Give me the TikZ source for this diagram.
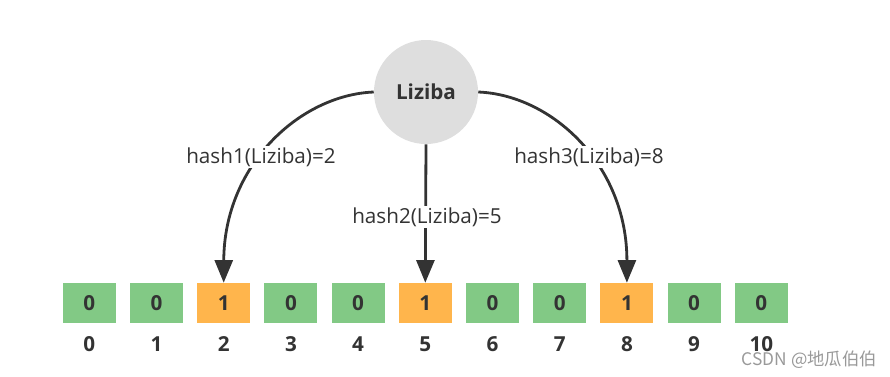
\documentclass[tikz,border=0pt]{standalone}
\usepackage{fontspec}
\setmainfont{Open Sans}
\newfontfamily\cjkfont{Noto Sans CJK SC}
\usetikzlibrary{arrows.meta,positioning}

\begin{document}
\begin{tikzpicture}[x=0.75pt, y=-0.75pt,
  bit/.style={minimum width=39.75pt, minimum height=30pt, inner sep=0pt, font=\fontsize{15.5}{18}\selectfont\bfseries, text=txtD},
  idx/.style={inner sep=0pt, font=\fontsize{15.5}{18}\selectfont\bfseries, text=txtD},
  lbl/.style={fill=white, inner sep=1pt, font=\fontsize{15.5}{18}\selectfont, text=txtD},
  hop/.style={-{Triangle[length=17pt,width=13.5pt]}, line width=2.1pt, draw=txtD},
]
\definecolor{txtD}{HTML}{333333}
\definecolor{bitG}{HTML}{82C985}
\definecolor{bitO}{HTML}{FFB54C}
\definecolor{keyG}{HTML}{DEDEDE}
\useasboundingbox (0,0) rectangle (890,376);
% key
\node[circle, fill=keyG, minimum size=78pt, inner sep=0pt, font=\fontsize{15.5}{18}\selectfont\bfseries, text=txtD] (key) at (426,92) {Liziba};
% ---- bit array ----
\foreach \k/\v/\c in {0/0/bitG,1/0/bitG,2/1/bitO,3/0/bitG,4/0/bitG,5/1/bitO,6/0/bitG,7/0/bitG,8/1/bitO,9/0/bitG,10/0/bitG}{
  \node[bit, fill=\c] (b\k) at ({89.3+67.2*\k},303) {\v};
  \node[idx] (n\k) at ({89.3+67.2*\k},344) {\k};
}
% ---- hash arrows ----
\draw[hop] (key.west) .. controls (300,95) and (224,165) .. (b2.north);
\draw[hop] (key.south) -- (b5.north);
\draw[hop] (key.east) .. controls (552,95) and (627,165) .. (b8.north);
\node[lbl] (h1) at (261,157) {hash1(Liziba)=2};
\node[lbl] (h2) at (427,217) {hash2(Liziba)=5};
\node[lbl] (h3) at (589,157) {hash3(Liziba)=8};
% watermark
\node[anchor=east, inner sep=0pt, text=black!40, font=\cjkfont\fontsize{13}{15}\selectfont] (mark) at (877,360) {CSDN @地瓜伯伯};
\end{tikzpicture}
\end{document}
